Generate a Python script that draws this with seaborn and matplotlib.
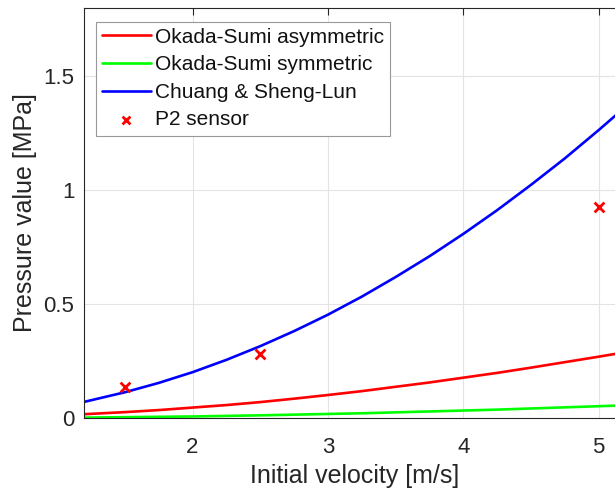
import matplotlib
matplotlib.use("Agg")
import matplotlib.pyplot as plt
import seaborn as sns
import pandas as pd

# Initial velocity samples [m/s] and predicted peak pressure [MPa]
velocity = [1.2, 1.5, 1.75, 2.0, 2.25, 2.5, 2.75, 3.0, 3.25, 3.5,
            3.75, 4.0, 4.25, 4.5, 4.75, 5.0, 5.2]
okada_asym = [0.018, 0.027, 0.036, 0.047, 0.058, 0.071, 0.086, 0.102, 0.119, 0.138,
              0.157, 0.178, 0.199, 0.222, 0.246, 0.270, 0.290]
okada_sym = [0.003, 0.005, 0.0065, 0.008, 0.0105, 0.013, 0.016, 0.019, 0.022, 0.026,
             0.030, 0.034, 0.038, 0.043, 0.048, 0.053, 0.057]
chuang = [0.072, 0.114, 0.155, 0.202, 0.256, 0.316, 0.382, 0.454, 0.533, 0.619,
          0.710, 0.808, 0.912, 1.023, 1.139, 1.263, 1.366]

# Measured values from the P2 sensor
sensor_v = [1.5, 2.5, 5.0]
sensor_p = [0.139, 0.282, 0.928]

series_names = ["Okada-Sumi asymmetric", "Okada-Sumi symmetric", "Chuang & Sheng-Lun"]
series_vals = [okada_asym, okada_sym, chuang]
series_colors = ["#FF0000", "#00FF00", "#0000FF"]

df = pd.concat(
    [pd.DataFrame({"v": velocity, "p": vals, "model": name})
     for name, vals in zip(series_names, series_vals)],
    ignore_index=True,
)
sensor = pd.DataFrame({"v": sensor_v, "p": sensor_p})

sns.set_style("white")
plt.rcParams["font.family"] = ["Liberation Sans", "DejaVu Sans"]

fig = plt.figure(figsize=(6.15, 4.92), dpi=100)
W, H = 615, 492
ax = fig.add_axes([84.2 / W, (H - 418.3) / H, 541.6 / W, 410.8 / H])

sns.lineplot(data=df, x="v", y="p", hue="model", hue_order=series_names,
             palette=series_colors, linewidth=1.9, ax=ax, sort=True)
sns.scatterplot(data=sensor, x="v", y="p", marker="x", color="#FF0000",
                s=50, linewidth=2.0, ax=ax, label="P2 sensor", zorder=5)

ax.set_xlim(1.2, 5.2)
ax.set_ylim(0, 1.8)
ax.set_xticks([2, 3, 4, 5])
ax.set_xticklabels(["2", "3", "4", "5"])
ax.set_yticks([0, 0.5, 1, 1.5])
ax.set_yticklabels(["0", "0.5", "1", "1.5"])

ax.grid(True, color="#e3e3e3", linewidth=0.8)
ax.set_axisbelow(True)
for s in ax.spines.values():
    s.set_color("#262626")
    s.set_linewidth(0.8)
ax.tick_params(axis="both", direction="in", length=5, width=0.8,
               colors="#262626", labelsize=16, top=True, right=True,
               labelcolor="#262626")
ax.tick_params(axis="x", pad=13.5)
ax.tick_params(axis="y", pad=7)

ax.set_xlabel("Initial velocity [m/s]", fontsize=18, color="#262626", labelpad=4.5)
ax.set_ylabel("Pressure value [MPa]", fontsize=18, color="#262626", labelpad=4.5)

leg = ax.legend(loc="upper left", bbox_to_anchor=(11.5 / 541.6, 1 - 14 / 410.8),
                fontsize=15, frameon=True, fancybox=False, framealpha=1,
                edgecolor="#999999", handlelength=2.35, handletextpad=0.2,
                borderpad=0.3, labelspacing=0.41, borderaxespad=0,
                markerscale=0.8)
leg.get_frame().set_linewidth(0.8)
for t in leg.get_texts():
    t.set_color("#111111")

fig.savefig("out.png", dpi=100)
